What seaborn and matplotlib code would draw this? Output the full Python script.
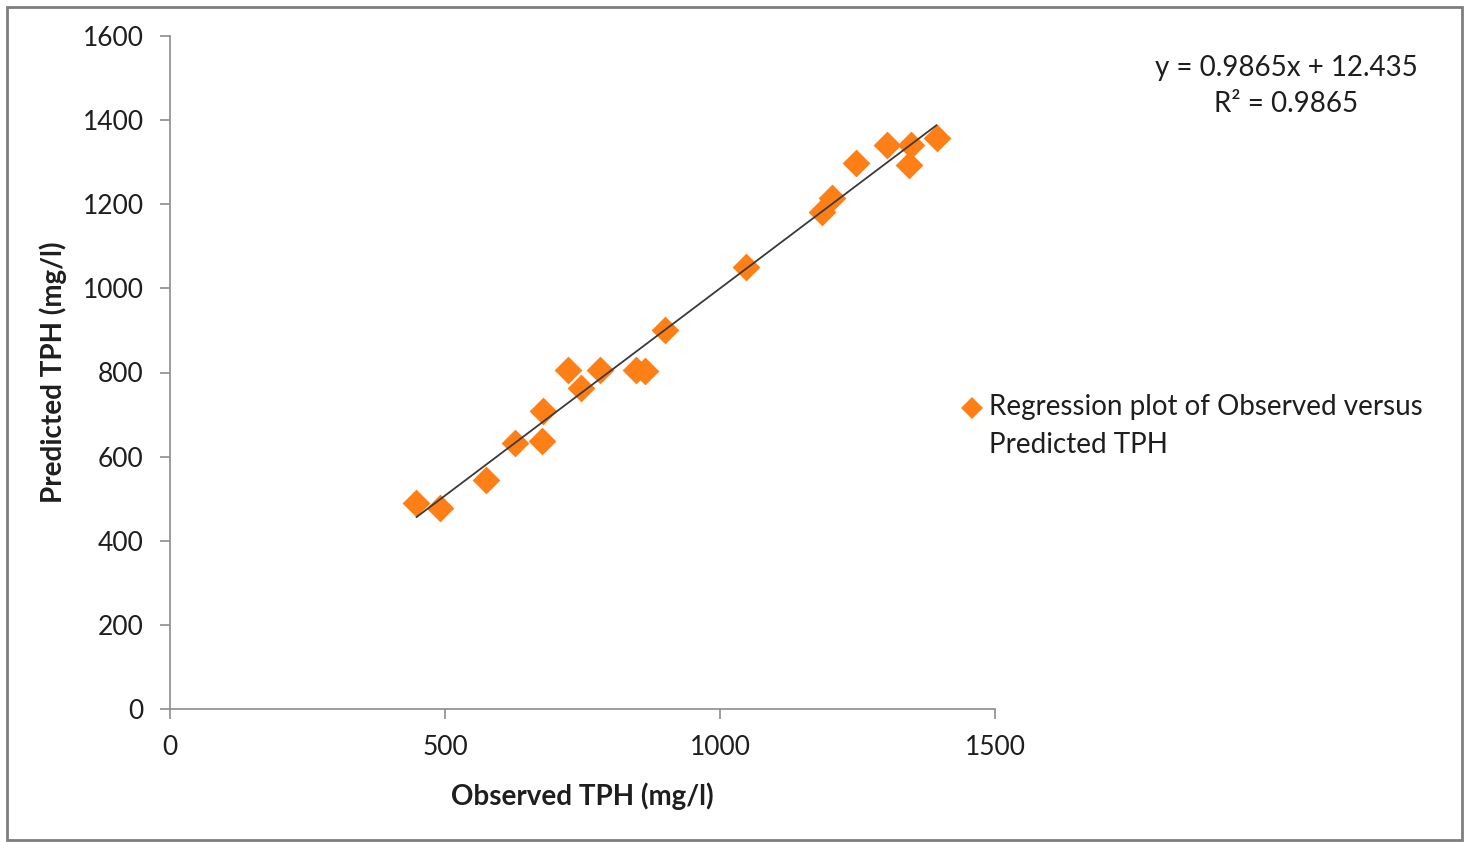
import matplotlib.pyplot as plt
from matplotlib.patches import Rectangle
from matplotlib.lines import Line2D
import seaborn as sns
import pandas as pd

observed = [448, 491, 574, 627, 676, 679, 723, 747, 782, 848, 864, 900,
            1048, 1185, 1203, 1247, 1303, 1347, 1344, 1394]
predicted = [489, 479, 544, 632, 638, 709, 806, 762, 806, 806, 804, 900,
             1050, 1182, 1214, 1299, 1341, 1341, 1293, 1357]
x_ticks = [0, 500, 1000, 1500]
y_ticks = [0, 200, 400, 600, 800, 1000, 1200, 1400, 1600]
equation = "y = 0.9865x + 12.435"
r_squared = "R² = 0.9865"
series_name = "Regression plot of Observed versus\nPredicted TPH"

df = pd.DataFrame({"obs": observed, "pred": predicted})

sns.set_theme(style="white")
plt.rcParams["font.family"] = ["Lato", "DejaVu Sans"]

orange = "#FF7F17"
grey = "#8C8C8C"
ink = "#1e1e1e"

fig = plt.figure(figsize=(14.7, 8.42), dpi=100)
ax = fig.add_axes([170 / 1470, 1 - 709 / 842, 825 / 1470, 673 / 842])

sns.scatterplot(data=df, x="obs", y="pred", marker="D", s=200,
                color=orange, linewidth=0, ax=ax, zorder=2)
sns.regplot(data=df, x="obs", y="pred", scatter=False, ci=None, ax=ax,
            line_kws={"color": "#3a3a3a", "linewidth": 1.3, "zorder": 3})

ax.set_xlim(0, 1500)
ax.set_ylim(0, 1600)
ax.set_xticks(x_ticks)
ax.set_yticks(y_ticks)
ax.tick_params(axis="both", direction="out", length=7, width=1.2,
               color=grey, labelsize=19, labelcolor=ink,
               bottom=True, left=True)
ax.tick_params(axis="x", pad=12)
ax.tick_params(axis="y", pad=12)
for side in ["top", "right"]:
    ax.spines[side].set_visible(False)
for side in ["left", "bottom"]:
    ax.spines[side].set_color(grey)
    ax.spines[side].set_linewidth(1.2)

ax.set_xlabel("Observed TPH (mg/l)", fontsize=20, fontweight="bold",
              color=ink, labelpad=16)
ax.set_ylabel("Predicted TPH (mg/l)", fontsize=20, fontweight="bold",
              color=ink, labelpad=11)

fig.text(1286 / 1470, 1 - 68 / 842, equation, fontsize=20, ha="center",
         va="center", color=ink)
fig.text(1286 / 1470, 1 - 104 / 842, r_squared, fontsize=20, ha="center",
         va="center", color=ink)

handle = Line2D([], [], marker="D", linestyle="", color=orange,
                markersize=11, markeredgewidth=0)
leg = fig.legend([handle], [series_name], loc="upper left",
                 bbox_to_anchor=(939 / 1470, 1 - 369 / 842), frameon=False,
                 fontsize=20, handlelength=0.6, handletextpad=0.3,
                 labelcolor=ink)
leg.get_texts()[0].set_linespacing(1.55)
# keep the diamond beside the first line, as in the original
for h in leg.legend_handles:
    h.set_ydata([y + 13 for y in h.get_ydata()])

fig.patches.append(Rectangle((7 / 1470, 2 / 842), 1455 / 1470, 833 / 842,
                             transform=fig.transFigure, fill=False,
                             edgecolor="#7f7f7f", linewidth=2))

fig.savefig("out.png", dpi=100)
